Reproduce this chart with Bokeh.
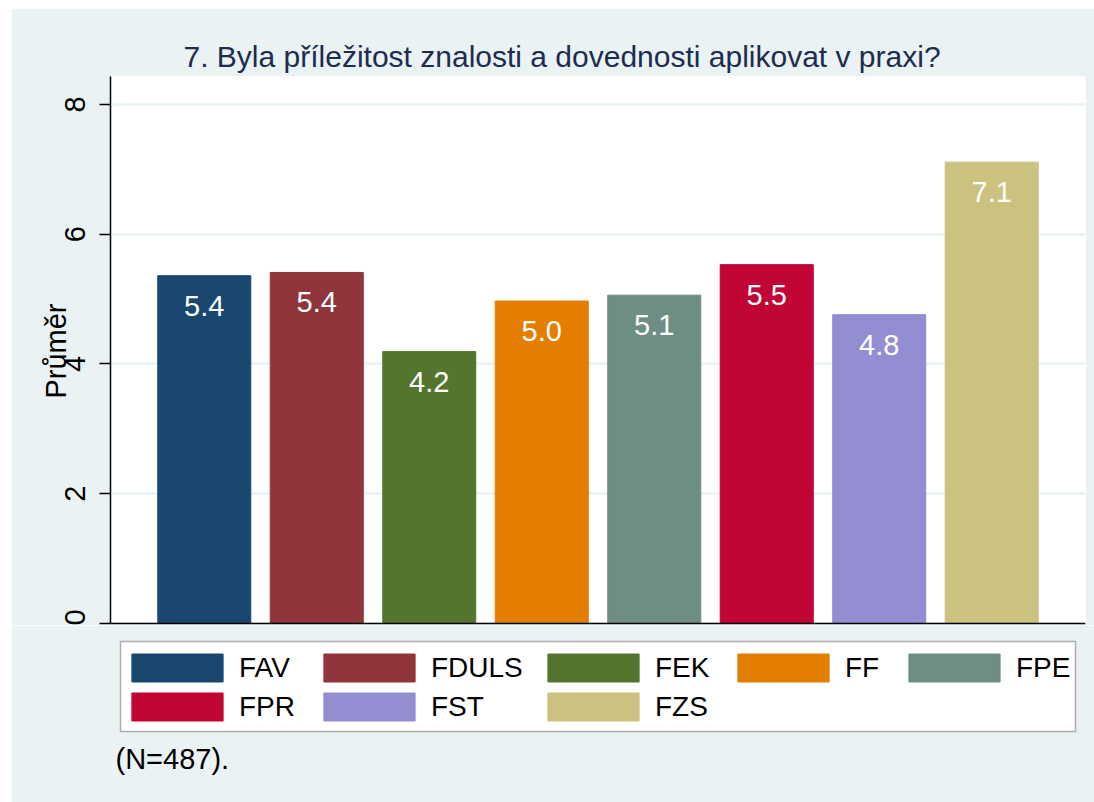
from bokeh.plotting import figure
from bokeh.layouts import column
from bokeh.models import (ColumnDataSource, FactorRange, Range1d, FixedTicker,
                          Legend, LegendItem, Title, Span, BoxAnnotation, Label)
from bokeh.embed import file_html
from bokeh.resources import INLINE

categories = ["FAV", "FDULS", "FEK", "FF", "FPE", "FPR", "FST", "FZS"]
values = [5.36, 5.41, 4.19, 4.97, 5.06, 5.53, 4.76, 7.11]
colors = ["#1A476F", "#90353B", "#55752F", "#E37E00",
          "#6E8E84", "#C10534", "#938DD2", "#CAC27E"]
y_ticks = [0, 2, 4, 6, 8]
title_text = "7. Byla příležitost znalosti a dovednosti aplikovat v praxi?"
y_label = "Průměr"
note_text = "(N=487)."

FONT = "Liberation Sans"
BG = "#EAF2F3"
Y_TOP = 8.43
Y_BOTTOM = -0.031

source = ColumnDataSource(dict(
    cat=categories,
    val=values,
    label=[f"{v:.1f}" for v in values],
))

# ---------------- main chart ----------------
p = figure(
    x_range=FactorRange(*categories, range_padding=0.0834, range_padding_units="percent"),
    y_range=Range1d(Y_BOTTOM, Y_TOP),
    width=1083, height=617,
    output_backend="svg", toolbar_location=None,
    min_border_left=99, min_border_right=9, min_border_top=68, min_border_bottom=0,
)
p.margin = 0
p.border_fill_color = BG
p.background_fill_color = "white"
p.outline_line_color = None

p.title = Title(text=title_text, align="left", offset=73, standoff=8,
                text_font=FONT, text_font_size="30px", text_font_style="normal",
                text_color="#1C2D4F")

p.add_layout(BoxAnnotation(top=0, bottom=Y_BOTTOM - 1, fill_color=BG, fill_alpha=1.0,
                           line_color=None, level="underlay"))

for i, cat in enumerate(categories):
    src = ColumnDataSource(dict(cat=[cat], val=[values[i]]))
    p.vbar(x="cat", top="val", width=0.827, bottom=0, source=src,
           fill_color=colors[i], line_color=colors[i])

p.text(x="cat", y="val", text="label", source=source,
       text_color="white", text_font_size="29px", text_font={"value": FONT},
       text_align="center", text_baseline="alphabetic", y_offset=30)

p.add_layout(Span(location=0, dimension="width", line_color="black", line_width=1.5))

p.yaxis.bounds = (0, Y_TOP)
p.yaxis.ticker = FixedTicker(ticks=y_ticks)
p.yaxis.major_label_orientation = "parallel"
p.yaxis.major_label_text_font = FONT
p.yaxis.major_label_text_font_size = "29px"
p.yaxis.major_label_text_color = "black"
p.yaxis.major_label_standoff = 14
p.yaxis.major_tick_out = 11
p.yaxis.major_tick_in = 0
p.yaxis.major_tick_line_width = 1.5
p.yaxis.minor_tick_line_color = None
p.yaxis.axis_line_width = 1.5
p.yaxis.axis_line_color = "black"
p.yaxis.axis_label = y_label
p.yaxis.axis_label_text_font = FONT
p.yaxis.axis_label_text_font_size = "29px"
p.yaxis.axis_label_text_font_style = "normal"
p.yaxis.axis_label_text_color = "black"
p.yaxis.axis_label_standoff = -9

p.xaxis.visible = False
p.xgrid.grid_line_color = None
p.ygrid.grid_line_color = BG
p.ygrid.grid_line_width = 2.5

# ---------------- legend + note strip ----------------
p2 = figure(
    x_range=FactorRange(*categories), y_range=Range1d(100, 101),
    width=1083, height=177,
    output_backend="svg", toolbar_location=None,
    min_border_left=99, min_border_right=9, min_border_top=0, min_border_bottom=0,
)
p2.margin = 0
p2.border_fill_color = BG
p2.background_fill_color = BG
p2.outline_line_color = None
p2.axis.visible = False
p2.grid.grid_line_color = None

leg_renderers = []
for i, cat in enumerate(categories):
    src = ColumnDataSource(dict(cat=[cat], val=[values[i]]))
    leg_renderers.append(p2.vbar(x="cat", top="val", width=0.8, bottom=0, source=src,
                                 fill_color=colors[i], line_color=colors[i]))

# legend frame (screen units, relative to the strip's frame)
p2.add_layout(BoxAnnotation(left=10, right=965, top=161, bottom=71,
                            left_units="screen", right_units="screen",
                            top_units="screen", bottom_units="screen",
                            fill_color="white", fill_alpha=1.0,
                            line_color="black", line_width=1.5, level="underlay"))

n_cols = 5
col_x = [10, 202, 426, 616, 787]
for j in range(n_cols):
    idx = [k for k in range(j, len(categories), n_cols)]
    items = [LegendItem(label=categories[k], renderers=[leg_renderers[k]]) for k in idx]
    y_loc = 78 if len(idx) == 2 else 117
    p2.add_layout(Legend(
        items=items, location=(col_x[j], y_loc), orientation="vertical",
        glyph_width=114, glyph_height=35, label_standoff=5, label_height=35,
        spacing=4, padding=0, margin=0,
        border_line_color=None, background_fill_alpha=0.0,
        label_text_font=FONT, label_text_font_size="28px", label_text_color="black",
    ), "center")

p2.add_layout(Label(x=5, y=44, x_units="screen", y_units="screen", text=note_text,
                    text_font=FONT, text_font_size="29px", text_color="black",
                    text_baseline="alphabetic"))

layout = column(p, p2, spacing=0, margin=(8, 0, 0, 11))
open("out.html", "w").write(file_html(layout, INLINE))
